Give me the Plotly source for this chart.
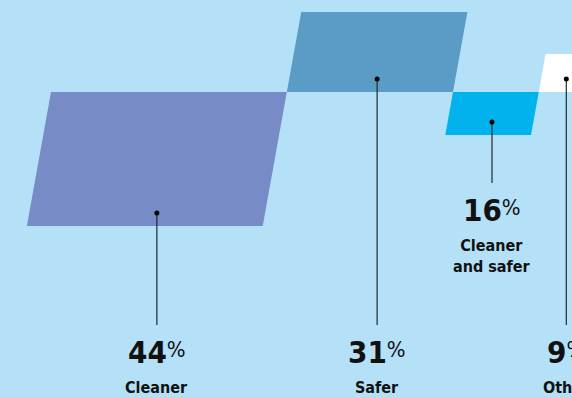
import plotly.graph_objects as go

# ---- data ----
categories = ["Cleaner", "Safer", "Cleaner<br>and safer", "Other"]
values = [44, 31, 16, 9]
value_labels = ["44", "31", "16", "9"]

# ---- layout / style constants ----
W, H = 572, 397
BG = "#b4e1f7"
colors = ["#778bc6", "#5a9cc6", "#00b3ed", "#ffffff"]
heights = [134, 80, 43, 38]          # parallelogram heights (px)
side = [1, -1, 1, -1]                # 1 = hangs below baseline, -1 = stands above
baseline_y = 92
x_start = 51
px_per_pct = 5.36
skew = 0.18
dot_offset = 13
line_end = [325, 325, 183, 325]
FONT = "DejaVu Sans Condensed, Liberation Sans Narrow, DejaVu Sans, sans-serif"
TXT = "#111111"
LINE_COLOR = "#23272d"

fig = go.Figure()
annotations = []
x = x_start
for i, v in enumerate(values):
    w = v * px_per_pct
    h = heights[i]
    if side[i] == 1:
        top_y, bot_y = baseline_y, baseline_y + h
        tl = x
        bl = x - skew * h
    else:
        bot_y, top_y = baseline_y, baseline_y - h
        bl = x
        tl = x + skew * h
    xs = [tl, tl + w, bl + w, bl, tl]
    ys = [top_y, top_y, bot_y, bot_y, top_y]
    fig.add_trace(go.Scatter(x=xs, y=ys, fill="toself", fillcolor=colors[i],
                             line=dict(width=0), mode="lines", hoverinfo="skip"))
    cx = (tl + bl) / 2 + w / 2
    dy = bot_y - dot_offset
    fig.add_trace(go.Scatter(x=[cx, cx], y=[dy, line_end[i]], mode="lines",
                             line=dict(color=LINE_COLOR, width=1.2), hoverinfo="skip"))
    fig.add_trace(go.Scatter(x=[cx], y=[dy], mode="markers",
                             marker=dict(color="#000000", size=5), hoverinfo="skip"))
    num_text = (f"<b><span style='font-size:31px'>{value_labels[i]}</span></b>"
                f"<sup><span style='font-size:22px'>%</span></sup>")
    annotations.append(dict(x=cx, y=line_end[i] + 7, xref="x", yref="y",
                            text=num_text, showarrow=False, xanchor="center", yanchor="top",
                            font=dict(family=FONT, size=14, color=TXT)))
    annotations.append(dict(x=cx, y=line_end[i] + 51, xref="x", yref="y",
                            text=f"<b>{categories[i]}</b>", showarrow=False,
                            xanchor="center", yanchor="top",
                            font=dict(family=FONT, size=16, color=TXT)))
    x = x + w

fig.update_layout(
    width=W, height=H,
    margin=dict(l=0, r=0, t=0, b=0),
    paper_bgcolor=BG, plot_bgcolor=BG,
    showlegend=False,
    xaxis=dict(range=[0, W], visible=False, fixedrange=True),
    yaxis=dict(range=[H, 0], visible=False, fixedrange=True),
    annotations=annotations,
)
fig.write_html("out.html",
               config={"displayModeBar": False, "staticPlot": True},
               post_script="document.body.style.margin='0';document.body.style.overflow='hidden';")
